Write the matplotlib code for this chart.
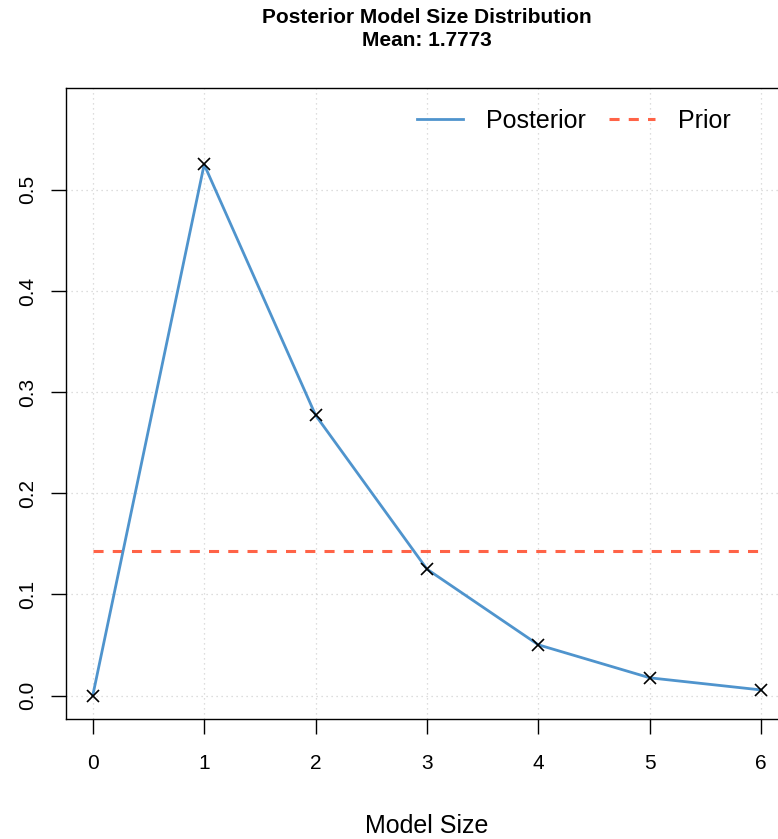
import matplotlib
matplotlib.use("Agg")
import matplotlib.pyplot as plt

# ---- data ----
model_size = [0, 1, 2, 3, 4, 5, 6]
posterior = [0.0, 0.5250, 0.2772, 0.1250, 0.0502, 0.0176, 0.0056]
prior_value = 1.0 / 7.0
x_ticks = [0, 1, 2, 3, 4, 5, 6]
y_ticks = [0.0, 0.1, 0.2, 0.3, 0.4, 0.5]
y_tick_labels = ["0.0", "0.1", "0.2", "0.3", "0.4", "0.5"]
title_text = "Posterior Model Size Distribution\nMean: 1.7773"
xlabel_text = "Model Size"
legend_labels = ["Posterior", "Prior"]

plt.rcParams['font.family'] = ['Liberation Sans', 'DejaVu Sans']

W, H = 778, 839
fig = plt.figure(figsize=(W / 100, H / 100), dpi=100)
# axes box in pixels: left 66, top 88, bottom 719, right ~788 (beyond figure)
ax = fig.add_axes([66 / W, 1 - 719 / H, (788 - 66) / W, (719 - 88) / H])

blue = "#4F94CD"
red = "#FF6347"

ymax = max(posterior) * 1.1
ax.set_xlim(-0.04 * 6, 6 + 0.04 * 6)
ax.set_ylim(-0.04 * ymax, ymax * 1.04)

# grid (dotted light gray)
for xv in x_ticks:
    ax.axvline(xv, color="#D3D3D3", lw=0.9, ls=(0, (1, 3)), zorder=0)
for yv in y_ticks:
    ax.axhline(yv, color="#D3D3D3", lw=0.9, ls=(0, (1, 3)), zorder=0)

ax.plot(model_size, posterior, color=blue, lw=2.0, zorder=3, label=legend_labels[0])
ax.plot([model_size[0], model_size[-1]], [prior_value, prior_value], color=red, lw=2.2,
        ls=(0, (3.3, 3.0)), zorder=2, label=legend_labels[1])
ax.plot(model_size, posterior, ls="none", marker="x", color="black", ms=8, mew=1.2, zorder=4)

ax.set_xticks(x_ticks)
ax.set_xticklabels([str(v) for v in x_ticks])
ax.set_yticks(y_ticks)
ax.set_yticklabels(y_tick_labels)
ax.tick_params(axis="both", direction="out", length=11, width=1.0, labelsize=15, color="black")
ax.tick_params(axis="x", pad=14)
ax.tick_params(axis="y", pad=10, labelrotation=90)
for lab in ax.get_yticklabels():
    lab.set_va("center")

for sp in ax.spines.values():
    sp.set_linewidth(1.0)
    sp.set_color("black")

handles, labels = ax.get_legend_handles_labels()
leg = fig.legend(handles, labels, loc="center left", bbox_to_anchor=(417 / W, 1 - 121 / H),
                 bbox_transform=fig.transFigure, ncol=2, frameon=False, fontsize=18,
                 handlelength=1.84, handletextpad=0.92, columnspacing=0.92,
                 borderpad=0, borderaxespad=0)

fig.text(427 / W, 1 - 29 / H, title_text, ha="center", va="center", fontsize=15,
         fontweight="bold", linespacing=1.3)
fig.text(427 / W, 1 - 826 / H, xlabel_text, ha="center", va="center", fontsize=18)

fig.savefig("out.png", dpi=100)
